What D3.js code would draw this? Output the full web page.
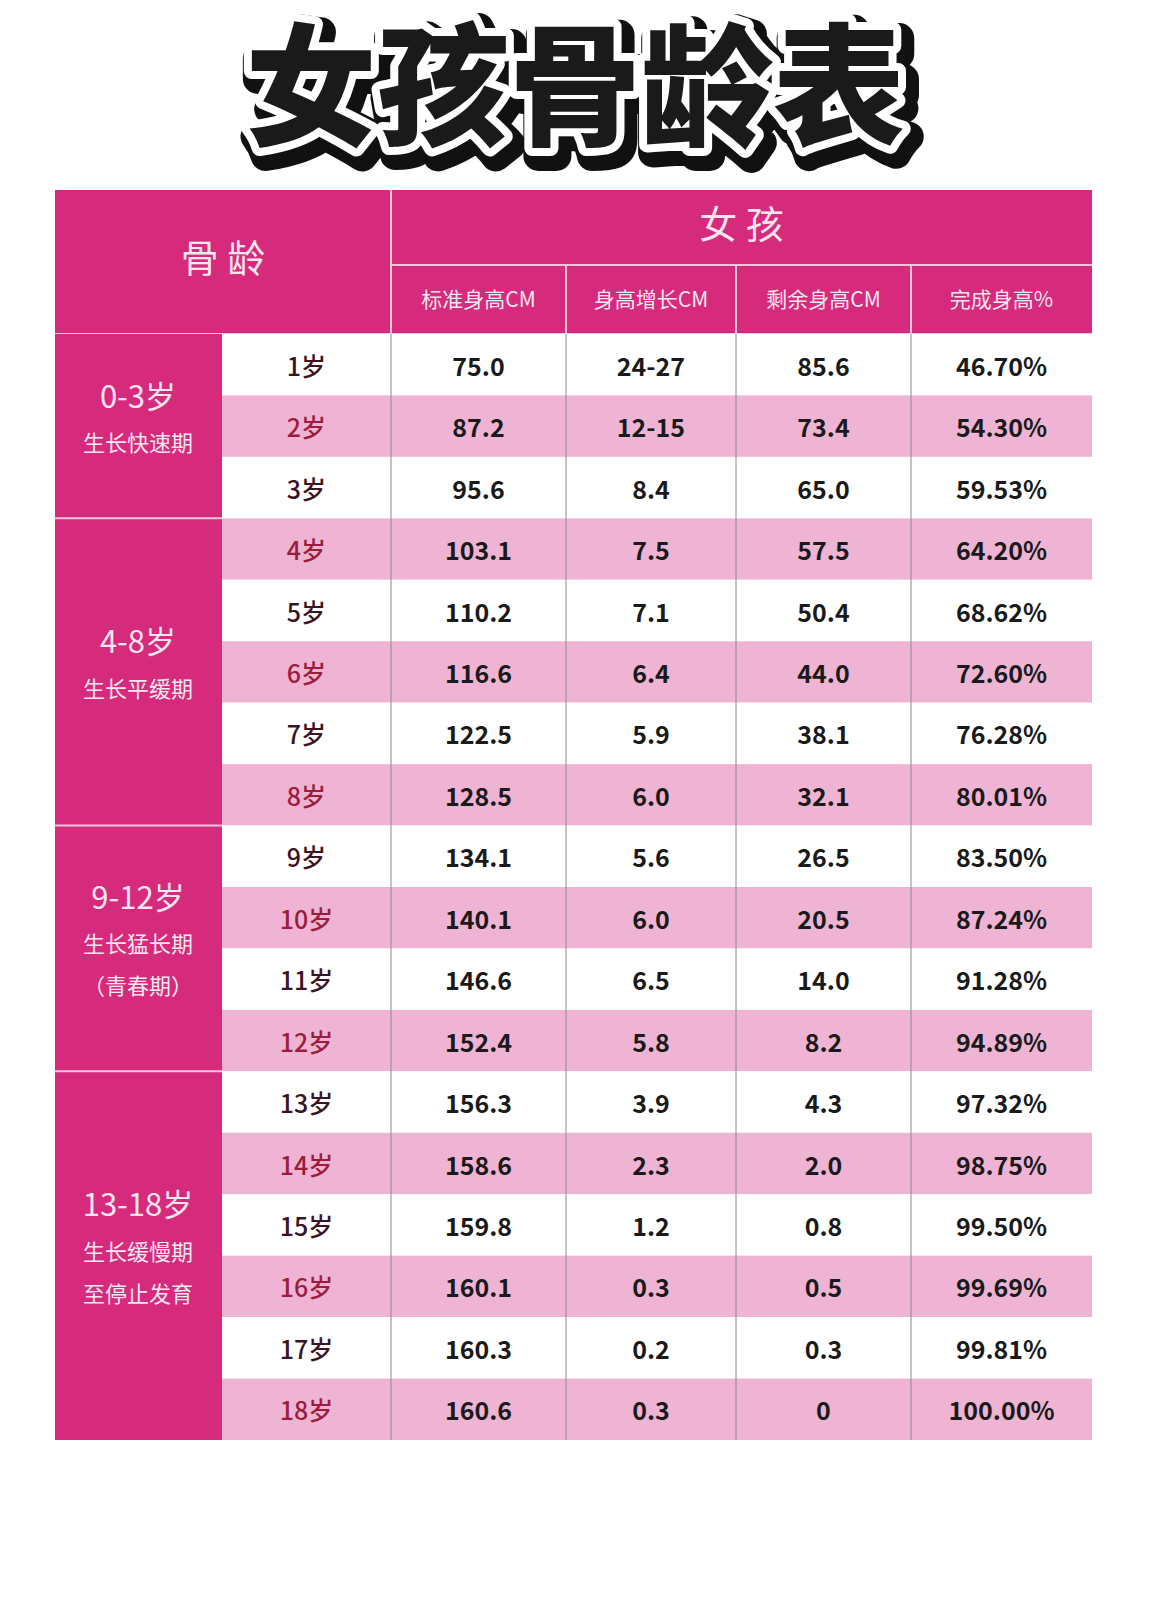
<!DOCTYPE html>
<html><head><meta charset="utf-8">
<script src="https://cdn.jsdelivr.net/npm/d3@7"></script>
<style>body{margin:0;background:#fff}</style>
</head><body><div id="chart"></div>
<script>
// data
const ages = ["1岁","2岁","3岁","4岁","5岁","6岁","7岁","8岁","9岁","10岁","11岁","12岁","13岁","14岁","15岁","16岁","17岁","18岁"];
const stdHeight = ["75.0","87.2","95.6","103.1","110.2","116.6","122.5","128.5","134.1","140.1","146.6","152.4","156.3","158.6","159.8","160.1","160.3","160.6"];
const growth = ["24-27","12-15","8.4","7.5","7.1","6.4","5.9","6.0","5.6","6.0","6.5","5.8","3.9","2.3","1.2","0.3","0.2","0.3"];
const remaining = ["85.6","73.4","65.0","57.5","50.4","44.0","38.1","32.1","26.5","20.5","14.0","8.2","4.3","2.0","0.8","0.5","0.3","0"];
const percent = ["46.70%","54.30%","59.53%","64.20%","68.62%","72.60%","76.28%","80.01%","83.50%","87.24%","91.28%","94.89%","97.32%","98.75%","99.50%","99.69%","99.81%","100.00%"];
const groups = [
  {label: "0-3岁", sub: ["生长快速期"], from: 0, to: 2},
  {label: "4-8岁", sub: ["生长平缓期"], from: 3, to: 7},
  {label: "9-12岁", sub: ["生长猛长期", "（青春期）"], from: 8, to: 11},
  {label: "13-18岁", sub: ["生长缓慢期", "至停止发育"], from: 12, to: 17}
];
const colHeaders = ["标准身高CM","身高增长CM","剩余身高CM","完成身高%"];
const title = "女孩骨龄表";

const W = 1170, H = 1610;
const font = "'Noto Sans CJK SC', 'Noto Sans', sans-serif";
const magenta = "#d62a7c", pink = "#efb4d4";

const svg = d3.select("#chart").append("svg").attr("width", W).attr("height", H);

// title
const tg = svg.append("g").attr("font-family", font).attr("font-weight", 900)
  .attr("font-size", 132).attr("text-anchor", "middle");
tg.append("text").attr("x", 581).attr("y", 143).text(title)
  .attr("fill", "#111").attr("stroke", "#111").attr("stroke-width", 30).attr("stroke-linejoin", "round");
tg.append("text").attr("x", 575).attr("y", 135).text(title)
  .attr("fill", "#111").attr("stroke", "#fff").attr("stroke-width", 16).attr("stroke-linejoin", "round");
tg.append("text").attr("x", 575).attr("y", 135).text(title).attr("fill", "#1a1a1a");

// scales
const colX = [55, 222, 391, 566, 736, 911, 1092];
const y = d3.scaleBand().domain(d3.range(ages.length)).range([334, 1440]);
const headTop = 190, headMid = 265;

// header
svg.append("rect").attr("x", colX[0]).attr("y", headTop).attr("width", colX[6] - colX[0]).attr("height", y.range()[0] - headTop).attr("fill", magenta);
svg.append("line").attr("x1", colX[2]).attr("x2", colX[6]).attr("y1", headMid).attr("y2", headMid).attr("stroke", "#f3c6dc").attr("stroke-width", 2);
svg.append("line").attr("x1", colX[0]).attr("x2", colX[6]).attr("y1", 334).attr("y2", 334).attr("stroke", "#f3c6dc").attr("stroke-width", 2);
d3.range(2, 6).forEach(i => {
  svg.append("line").attr("x1", colX[i]).attr("x2", colX[i]).attr("y1", i === 2 ? headTop : headMid).attr("y2", 334).attr("stroke", "#f3c6dc").attr("stroke-width", 2);
});
svg.append("text").attr("x", (colX[0] + colX[2]) / 2).attr("y", 262).attr("text-anchor", "middle")
  .attr("dominant-baseline", "middle").attr("font-family", font).attr("font-size", 38).attr("fill", "#f8e6ef").text("骨 龄");
svg.append("text").attr("x", (colX[2] + colX[6]) / 2).attr("y", 228).attr("text-anchor", "middle")
  .attr("dominant-baseline", "middle").attr("font-family", font).attr("font-size", 38).attr("fill", "#f8e6ef").text("女 孩");
svg.selectAll(".colhead").data(colHeaders).join("text")
  .attr("x", (d, i) => (colX[i + 2] + colX[i + 3]) / 2).attr("y", 301)
  .attr("text-anchor", "middle").attr("dominant-baseline", "middle")
  .attr("font-family", font).attr("font-size", 21).attr("fill", "#f8e6ef").text(d => d);

// row backgrounds
svg.selectAll(".rowbg").data(ages).join("rect")
  .attr("x", colX[1]).attr("y", (d, i) => y(i)).attr("width", colX[6] - colX[1]).attr("height", y.bandwidth())
  .attr("fill", (d, i) => i % 2 ? pink : "#fff");

// column lines
d3.range(2, 6).forEach(i => {
  svg.append("line").attr("x1", colX[i]).attr("x2", colX[i]).attr("y1", 334).attr("y2", 1440).attr("stroke", "#8a8a8a").attr("stroke-width", 1);
});

// group cells
const gg = svg.selectAll(".grp").data(groups).join("g");
gg.append("rect").attr("x", colX[0]).attr("y", d => y(d.from)).attr("width", colX[1] - colX[0])
  .attr("height", d => y(d.to) + y.bandwidth() - y(d.from)).attr("fill", magenta);
gg.filter((d, i) => i > 0).append("line").attr("x1", colX[0]).attr("x2", colX[1])
  .attr("y1", d => y(d.from)).attr("y2", d => y(d.from)).attr("stroke", "#f3c6dc").attr("stroke-width", 2);
gg.each(function(d) {
  const g = d3.select(this);
  const cy = (y(d.from) + y(d.to) + y.bandwidth()) / 2;
  const n = d.sub.length;
  const y0 = cy - (n * 42) / 2 - 6;
  g.append("text").attr("x", 138).attr("y", y0).attr("text-anchor", "middle").attr("dominant-baseline", "middle")
    .attr("font-family", font).attr("font-size", 31).attr("fill", "#f8e6ef").text(d.label);
  d.sub.forEach((s, j) => {
    g.append("text").attr("x", 138).attr("y", y0 + 46 + j * 42).attr("text-anchor", "middle").attr("dominant-baseline", "middle")
      .attr("font-family", font).attr("font-size", 22).attr("fill", "#f8e6ef").text(s);
  });
});

// cell text
const cols = [ages, stdHeight, growth, remaining, percent];
cols.forEach((arr, c) => {
  svg.selectAll(".c" + c).data(arr).join("text")
    .attr("x", (colX[c + 1] + colX[c + 2]) / 2)
    .attr("y", (d, i) => y(i) + y.bandwidth() / 2)
    .attr("text-anchor", "middle").attr("dominant-baseline", "central")
    .attr("font-family", font).attr("font-weight", c === 0 ? 500 : 600).attr("font-size", 25)
    .attr("fill", (d, i) => c === 0 ? (i % 2 ? "#9c1c3c" : "#3a1424") : "#1a1a1a")
    .text(d => d);
});
</script>
</body></html>
